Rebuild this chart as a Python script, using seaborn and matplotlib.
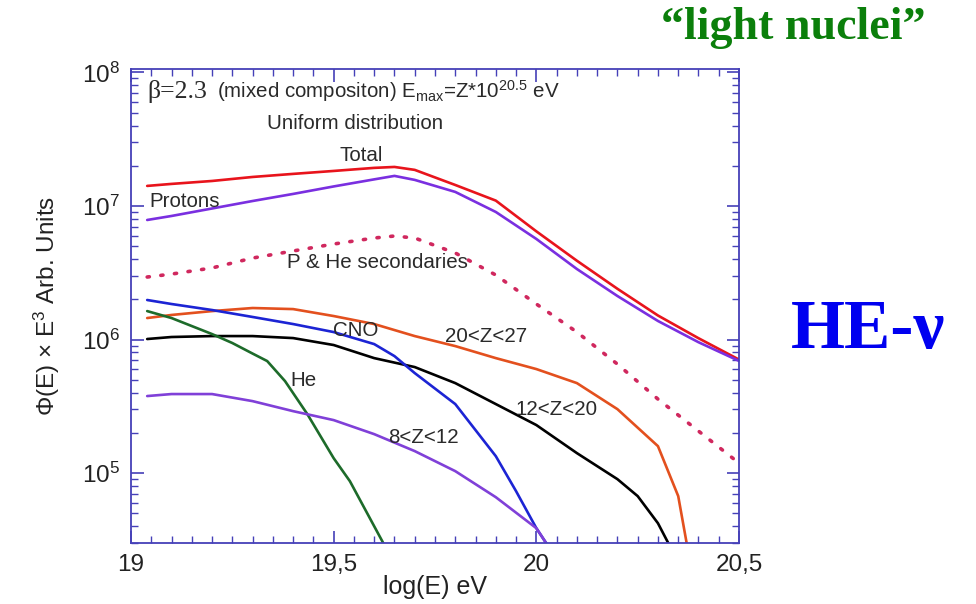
import numpy as np
import pandas as pd
import matplotlib
matplotlib.use("Agg")
import matplotlib.pyplot as plt
from matplotlib.ticker import FixedLocator, FixedFormatter, LogLocator, NullFormatter
import seaborn as sns

# ---- spectra: log10(E/eV) and log10(Phi * E^3) ----
total_x = [19.04, 19.1, 19.2, 19.3, 19.4, 19.5, 19.6, 19.65, 19.7, 19.8, 19.9, 20.0, 20.1, 20.2, 20.3, 20.4, 20.5]
total_y = [7.150, 7.165, 7.187, 7.217, 7.240, 7.262, 7.285, 7.292, 7.270, 7.157, 7.040, 6.810, 6.590, 6.380, 6.180, 6.010, 5.850]

protons_x = [19.04, 19.1, 19.2, 19.3, 19.4, 19.5, 19.6, 19.65, 19.7, 19.8, 19.9, 20.0, 20.1, 20.2, 20.3, 20.4, 20.5]
protons_y = [6.895, 6.925, 6.981, 7.037, 7.090, 7.146, 7.199, 7.225, 7.195, 7.105, 6.955, 6.753, 6.528, 6.326, 6.139, 5.980, 5.840]

secondaries_x = [19.04, 19.1, 19.2, 19.3, 19.4, 19.5, 19.6, 19.65, 19.7, 19.8, 19.9, 20.0, 20.1, 20.2, 20.3, 20.4, 20.5]
secondaries_y = [6.468, 6.490, 6.536, 6.610, 6.663, 6.715, 6.760, 6.775, 6.760, 6.648, 6.483, 6.266, 6.056, 5.816, 5.554, 5.315, 5.075]

z20_27_x = [19.04, 19.1, 19.2, 19.3, 19.4, 19.5, 19.6, 19.7, 19.8, 19.9, 20.0, 20.1, 20.2, 20.3, 20.35, 20.37, 20.38]
z20_27_y = [6.161, 6.184, 6.213, 6.236, 6.228, 6.176, 6.116, 6.026, 5.951, 5.861, 5.779, 5.674, 5.479, 5.202, 4.828, 4.490, 4.300]

z12_20_x = [19.04, 19.1, 19.2, 19.3, 19.4, 19.5, 19.6, 19.7, 19.8, 19.9, 20.0, 20.1, 20.2, 20.25, 20.3, 20.33, 20.35]
z12_20_y = [6.004, 6.019, 6.026, 6.026, 6.011, 5.959, 5.861, 5.794, 5.674, 5.517, 5.360, 5.150, 4.955, 4.828, 4.625, 4.450, 4.300]

cno_x = [19.04, 19.1, 19.2, 19.3, 19.4, 19.5, 19.6, 19.65, 19.7, 19.8, 19.9, 19.95, 20.0, 20.03, 20.05]
cno_y = [6.296, 6.266, 6.221, 6.169, 6.116, 6.056, 5.966, 5.876, 5.749, 5.517, 5.127, 4.865, 4.588, 4.450, 4.300]

he_x = [19.04, 19.1, 19.2, 19.25, 19.3, 19.336, 19.38, 19.435, 19.5, 19.54, 19.62, 19.66]
he_y = [6.213, 6.161, 6.041, 5.974, 5.895, 5.839, 5.689, 5.442, 5.112, 4.940, 4.490, 4.250]

z8_12_x = [19.04, 19.1, 19.2, 19.3, 19.4, 19.5, 19.6, 19.7, 19.8, 19.9, 20.0, 20.03, 20.06]
z8_12_y = [5.577, 5.592, 5.592, 5.539, 5.464, 5.397, 5.292, 5.165, 5.015, 4.820, 4.588, 4.450, 4.300]

x_tick_values = [19.0, 19.5, 20.0, 20.5]
x_tick_labels = ["19", "19,5", "20", "20,5"]

series = [
    ("Total", total_x, total_y, "#e8141c", "-"),
    ("Protons", protons_x, protons_y, "#7a2fe0", "-"),
    ("P & He secondaries", secondaries_x, secondaries_y, "#d0285e", (0, (0.6, 3.2))),
    ("20<Z<27", z20_27_x, z20_27_y, "#e3501e", "-"),
    ("12<Z<20", z12_20_x, z12_20_y, "#000000", "-"),
    ("CNO", cno_x, cno_y, "#1c24d4", "-"),
    ("He", he_x, he_y, "#1d6b2a", "-"),
    ("8<Z<12", z8_12_x, z8_12_y, "#8040d8", "-"),
]

sns.set_theme(style="ticks")
plt.rcParams["font.family"] = ["Liberation Sans", "DejaVu Sans"]
plt.rcParams["mathtext.fontset"] = "custom"
plt.rcParams["mathtext.rm"] = "Liberation Sans"
plt.rcParams["mathtext.it"] = "Liberation Sans:italic"
plt.rcParams["mathtext.bf"] = "Liberation Sans:bold"

fig = plt.figure(figsize=(9.76, 6.04), dpi=100)
fig.patch.set_facecolor("white")
ax = fig.add_axes([0.1342, 0.101, 0.623, 0.7848])
ax.set_facecolor("white")

for name, xs, ys, color, ls in series:
    df = pd.DataFrame({"logE": xs, "flux": np.power(10.0, ys)})
    lw = 2.6 if name == "P & He secondaries" else 1.9
    sns.lineplot(data=df, x="logE", y="flux", ax=ax, color=color,
                 linewidth=lw, linestyle=ls, dash_capstyle="round",
                 legend=False, sort=False)

ax.set_yscale("log")
ax.set_xlim(19.0, 20.5)
ax.set_ylim(3e4, 1.06e8)

frame_color = "#4540b8"
for sp in ax.spines.values():
    sp.set_color(frame_color)
    sp.set_linewidth(1.3)
    sp.set_visible(True)

ax.xaxis.set_major_locator(FixedLocator(x_tick_values))
ax.xaxis.set_major_formatter(FixedFormatter(x_tick_labels))
ax.xaxis.set_minor_locator(FixedLocator(np.arange(19.0, 20.5001, 0.05)))
ax.yaxis.set_major_locator(LogLocator(base=10, numticks=10))
ax.yaxis.set_minor_locator(LogLocator(base=10, subs=np.arange(2, 10), numticks=20))
ax.yaxis.set_minor_formatter(NullFormatter())

ax.tick_params(which="both", direction="in", top=True, right=True,
               color=frame_color, labelcolor="#222222", labelsize=17.5)
ax.tick_params(which="major", length=9, width=1.2, pad=8)
ax.tick_params(which="minor", length=5, width=1.0)

ax.set_xlabel("log(E) eV", fontsize=18, color="#222222")
ax.xaxis.set_label_coords(0.5, -0.068)
ax.set_ylabel("\u03a6(E) \u00d7 E$^3$ Arb. Units", fontsize=17.5, color="#222222")
ax.yaxis.set_label_coords(-0.113, 0.5)

# annotations inside the frame
txt = dict(fontsize=14.8, color="#2a2a2a")
ax.text(19.04, 10**7.86, "\u03b2=2.3", ha="left", va="center",
        family=["Liberation Serif", "DejaVu Serif"], fontsize=18.5, color="#2a2a2a")
ax.text(19.212, 10**7.86, r"(mixed compositon) E$_{\mathrm{max}}$=Z*10$^{20.5}$ eV",
        ha="left", va="center", **txt)
ax.text(19.552, 10**7.614, "Uniform distribution", ha="center", va="center", **txt)
ax.text(19.569, 10**7.375, "Total", ha="center", va="center", **txt)
ax.text(19.045, 10**7.03, "Protons", ha="left", va="center", **txt)
ax.text(19.385, 10**6.58, "P & He secondaries", ha="left", va="center", **txt)
ax.text(19.499, 10**6.064, "CNO", ha="left", va="center", **txt)
ax.text(19.775, 10**6.026, "20<Z<27", ha="left", va="center", **txt)
ax.text(19.393, 10**5.697, "He", ha="left", va="center", **txt)
ax.text(19.948, 10**5.479, "12<Z<20", ha="left", va="center", **txt)
ax.text(19.635, 10**5.27, "8<Z<12", ha="left", va="center", **txt)

# side captions
fig.text(0.813, 0.953, "\u201clight nuclei\u201d", ha="center", va="center",
         fontsize=33, fontweight="bold", color="#0b7f0b",
         family=["Liberation Serif", "DejaVu Serif"])
fig.text(0.889, 0.452, "HE-\u03bd", ha="center", va="center",
         fontsize=50, fontweight="bold", color="#0000f0",
         family=["Liberation Serif", "DejaVu Serif"])

fig.savefig("out.png", dpi=100, facecolor="white")
